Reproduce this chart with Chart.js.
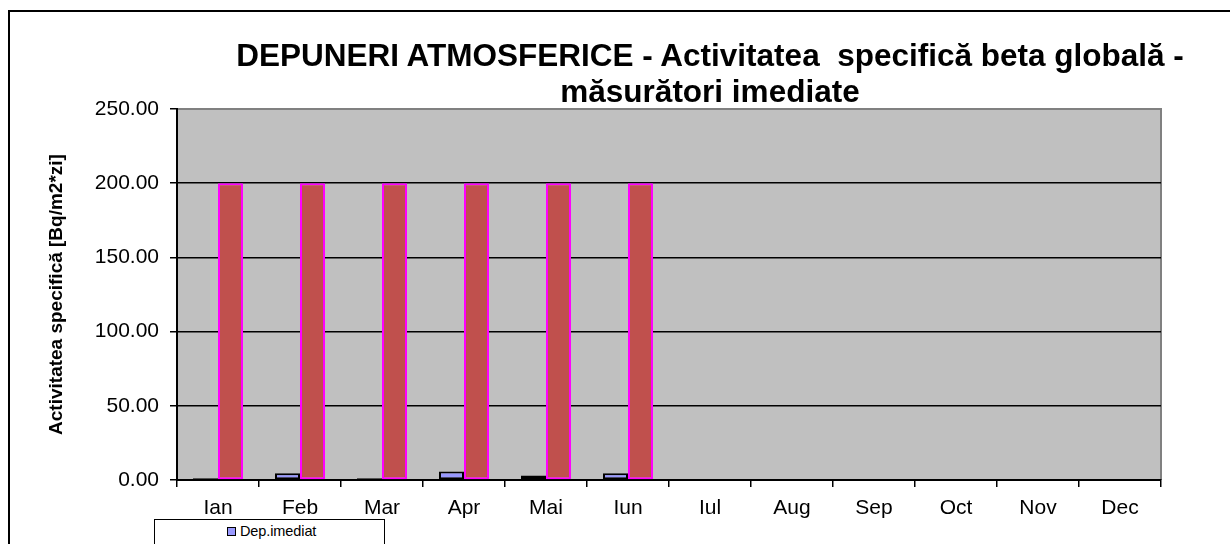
<!DOCTYPE html>
<html>
<head>
<meta charset="utf-8">
<script src="https://cdn.jsdelivr.net/npm/chart.js@4"></script>
<style>
    body { margin: 0; background: #fff; overflow: hidden; }
    #wrap { position: relative; width: 1230px; height: 544px; overflow: hidden; }
    #frame { position: absolute; left: 8px; top: 10px; width: 1400px; height: 700px; border: 2px solid #000; }
    #chart { position: absolute; left: 0; top: 0; }
    #title { position: absolute; left: 150px; width: 1120px; top: 37px; text-align: center;
             font: bold 31.5px "Liberation Sans", Arial, sans-serif; line-height: 36px; color: #000; }
    #legend { position: absolute; left: 154px; top: 519px; width: 229px; height: 60px;
              border: 1.5px solid #000; background: #fff; }
    #legend .sw { position: absolute; left: 72px; top: 7px; width: 7px; height: 7px;
                  background: #9999ff; border: 1px solid #000; }
    #legend .tx { position: absolute; left: 85px; top: 3px; font: 14.5px "Liberation Sans", Arial, sans-serif;
                  letter-spacing: -0.1px; color: #000; }
</style>
</head>
<body>
<div id="wrap">
    <div id="frame"></div>
    <canvas id="chart" width="1230" height="544"></canvas>
    <div id="title">DEPUNERI ATMOSFERICE - Activitatea&nbsp; specifică beta globală -<br>măsurători imediate</div>
    <div id="legend"><div class="sw"></div><div class="tx">Dep.imediat</div></div>
</div>
<script>
const months = ['Ian', 'Feb', 'Mar', 'Apr', 'Mai', 'Iun', 'Iul', 'Aug', 'Sep', 'Oct', 'Nov', 'Dec'];
const depImediat = [1.2, 4.5, 1.2, 5.8, 3.1, 4.5, null, null, null, null, null, null];
const nivelAtentionare = [200, 200, 200, 200, 200, 200, null, null, null, null, null, null];
const yTicks = [0, 50, 100, 150, 200, 250];

// fundal gri al zonei de desen
const plotBg = {
    id: 'plotBg',
    beforeDraw(chart) {
        const { ctx, chartArea: a } = chart;
        ctx.save();
        ctx.fillStyle = '#c0c0c0';
        ctx.fillRect(a.left, a.top, a.right - a.left, a.bottom - a.top);
        ctx.strokeStyle = '#808080';
        ctx.lineWidth = 2;
        ctx.beginPath();
        ctx.moveTo(a.left, a.top);
        ctx.lineTo(a.right, a.top);
        ctx.lineTo(a.right, a.bottom);
        ctx.stroke();
        ctx.restore();
    }
};

new Chart(document.getElementById('chart').getContext('2d'), {
    type: 'bar',
    data: {
        labels: months,
        datasets: [{
            label: 'Dep.imediat',
            data: depImediat,
            backgroundColor: '#9999ff',
            borderColor: '#000',
            borderWidth: 2,
            borderSkipped: false
        }, {
            label: 'Nivel de atenționare',
            data: nivelAtentionare,
            backgroundColor: '#c0504d',
            borderColor: '#ff00ff',
            borderWidth: 2,
            borderSkipped: false
        }]
    },
    options: {
        responsive: false,
        devicePixelRatio: 1,
        animation: false,
        categoryPercentage: 0.61,
        barPercentage: 1.0,
        layout: { padding: { left: 0, top: 109, right: 69, bottom: 24 } },
        plugins: {
            legend: { display: false },
            title: { display: false },
            tooltip: { enabled: false }
        },
        scales: {
            x: {
                grid: { drawOnChartArea: false, color: '#000', tickLength: 7, lineWidth: 1.5, offset: true },
                border: { color: '#000', width: 2 },
                ticks: { color: '#000', padding: 9, font: { family: 'Liberation Sans', size: 21 } },
                afterFit(scale) { scale.height = 40; scale.paddingLeft = 0; scale.paddingRight = 0; }
            },
            y: {
                min: 0,
                max: 250,
                afterBuildTicks(scale) { scale.ticks = yTicks.map(v => ({ value: v })); },
                grid: {
                    color: c => c.tick && c.tick.value === 250 ? '#808080' : '#000',
                    tickColor: '#000',
                    tickLength: 7,
                    lineWidth: 1.5
                },
                border: { color: '#000', width: 2 },
                ticks: {
                    color: '#000',
                    padding: 11,
                    font: { family: 'Liberation Sans', size: 21 },
                    callback: v => v.toFixed(2)
                },
                title: {
                    display: true,
                    text: 'Activitatea specifică [Bq/m2*zi]',
                    color: '#000',
                    font: { family: 'Liberation Sans', size: 19, weight: 'bold' },
                    padding: { top: 45, bottom: 0 }
                },
                afterFit(scale) { scale.width = 177; scale.paddingTop = 0; scale.paddingBottom = 0; }
            }
        }
    },
    plugins: [plotBg]
});
</script>
</body>
</html>
